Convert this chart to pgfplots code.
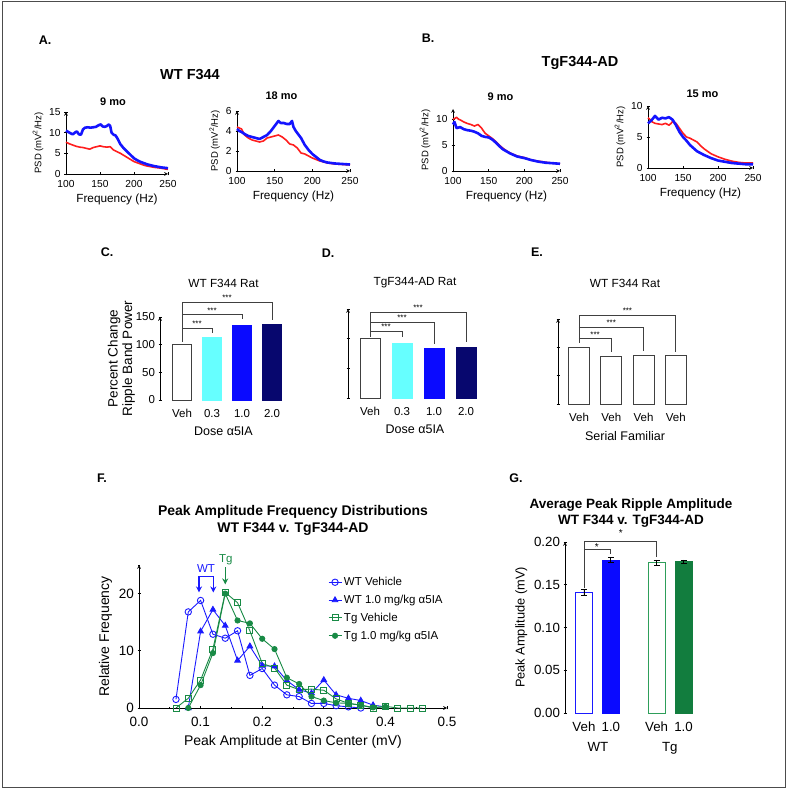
\documentclass[border=0pt]{standalone}
\usepackage{pgfplots}
\pgfplotsset{compat=1.18}
\usetikzlibrary{arrows.meta}
\usepackage{fontspec}
\setmainfont{Liberation Sans}
\definecolor{lred}{HTML}{FF1E1E}
\definecolor{lblue}{HTML}{1414FF}
\definecolor{cyanbar}{HTML}{66FFFF}
\definecolor{bluebar}{HTML}{0A0AFF}
\definecolor{navybar}{HTML}{07076E}
\definecolor{pblue}{HTML}{1A1AFF}
\definecolor{pgreen}{HTML}{188A45}
\definecolor{tgfill}{HTML}{127D3E}
\definecolor{tgline}{HTML}{2E9E5A}
\newcommand{\fs}[1]{\fontsize{#1}{#1}\selectfont}
\tikzset{br/.style={black!75, line width=0.8pt}}
\pgfplotsset{
  base/.style={scale only axis, clip=false, anchor=south west,
    /pgf/number format/assume math mode=true,
    tick align=outside, axis line style={-,line width=0.7pt}, tick style={black,line width=0.7pt},
    major tick length=3pt},
  psd/.style={base, axis lines=left,
    xmin=100,xmax=250,xtick={100,150,200,250},ymin=0,
    ticklabel style={font=\fs{10.2}},
    xticklabel style={yshift=-1.5pt},
    yticklabel style={xshift=-0.5pt},
    xlabel={Frequency (Hz)}, xlabel style={font=\fs{11.8}, yshift=1pt},
    ylabel={PSD (mV\textsuperscript{2}/Hz)}, ylabel style={font=\fs{9.5}, yshift=-1pt},
    title style={font=\bfseries\fs{11}}},
  redl/.style={lred, line width=1.6pt, line join=round},
  bluel/.style={lblue, line width=2.6pt, line join=round},
  bars/.style={base, axis lines=left, ymin=0, ymax=150, ytick={0,50,100,150},
    x axis line style={draw=none}, xtick style={draw=none},
    xtick={1,2,3,4}, xmax=4.5,
    ticklabel style={font=\fs{11.5}},
    xticklabel style={yshift=-4pt},
    label style={font=\fs{12.5}},
    xlabel style={yshift=-3pt},
    title style={font=\fs{11.8}}},
  onebar/.style={ybar, bar shift=0pt},
}
\begin{document}
\begin{tikzpicture}[x=1pt,y=1pt]
\useasboundingbox (0,0) rectangle (787,791);
\draw[line width=1pt, black!70] (2,3) rectangle (785,789);
% panel letters and group titles
\node[font=\bfseries\fs{12.5}] at (45,751) {A.};
\node[font=\bfseries\fs{12.5}] at (428,753) {B.};
\node[font=\bfseries\fs{14.5}] at (190,716) {WT F344};
\node[font=\bfseries\fs{14.5}] at (580,728) {TgF344-AD};
\node[font=\bfseries\fs{12.5}] at (107,539) {C.};
\node[font=\bfseries\fs{12.5}] at (328,538) {D.};
\node[font=\bfseries\fs{12.5}] at (537,539) {E.};
\node[font=\bfseries\fs{12.5}] at (102,313) {F.};
\node[font=\bfseries\fs{12.5}] at (516,313) {G.};

% ---------- A left: 9 mo
\begin{axis}[psd, at={(66pt,617pt)}, width=102pt, height=62pt, ymax=15, ytick={0,5,10,15},
  title={9 mo}, title style={yshift=-3pt, xshift=-4pt}]
\addplot[redl] coordinates {(100,7.7)(105,7.3)(110,7.0)(115,6.7)(120,6.5)(125,6.4)(130,6.2)(135,6.0)(140,6.4)(145,6.6)(150,6.8)(155,6.6)(160,6.5)(165,6.6)(170,5.8)(175,5.4)(180,5.0)(185,4.5)(190,4.0)(195,3.5)(200,3.0)(205,2.7)(210,2.4)(215,2.1)(220,1.9)(225,1.75)(230,1.6)(240,1.4)(250,1.1)};
\addplot[bluel] coordinates {(100,10.5)(103,10.2)(106,9.9)(110,9.6)(113,10.0)(116,10.3)(119,9.6)(122,9.5)(125,10.8)(128,11.2)(132,11.3)(136,11.2)(140,11.3)(144,11.4)(148,11.8)(151,12.0)(154,11.5)(157,11.4)(160,11.6)(163,12.0)(165,11.6)(167,10.0)(170,9.5)(173,9.3)(176,8.5)(180,7.2)(185,6.2)(190,5.4)(195,4.6)(200,3.8)(205,3.3)(210,2.9)(215,2.6)(220,2.3)(225,2.1)(230,1.9)(235,1.75)(240,1.6)(245,1.5)(250,1.4)};
\end{axis}
% ---------- A right: 18 mo
\begin{axis}[psd, at={(237pt,620pt)}, width=113pt, height=60pt, ymax=6, ytick={0,2,4,6},
  title={18 mo}, title style={yshift=2pt, xshift=-12pt}]
\addplot[redl] coordinates {(100,4.4)(103,4.3)(106,4.2)(110,3.6)(115,3.3)(120,3.1)(125,3.0)(130,2.9)(135,3.0)(140,3.3)(145,3.4)(150,3.5)(155,3.6)(160,3.4)(165,3.1)(170,2.7)(175,2.6)(180,2.3)(185,1.8)(190,1.7)(195,1.5)(200,1.3)(205,1.15)(210,1.0)(220,0.8)(230,0.7)(240,0.65)(250,0.6)};
\addplot[bluel] coordinates {(100,4.2)(103,4.0)(106,3.9)(110,3.7)(115,3.5)(120,3.4)(125,3.3)(130,3.2)(135,3.4)(140,3.6)(145,4.0)(150,4.5)(153,4.8)(155,5.0)(158,4.8)(162,4.8)(166,4.7)(170,4.7)(173,5.0)(175,4.4)(178,4.0)(180,3.8)(185,3.3)(190,2.6)(195,2.1)(200,1.7)(205,1.4)(210,1.1)(215,0.95)(220,0.85)(230,0.75)(240,0.7)(250,0.65)};
\end{axis}
% ---------- B left: 9 mo
\begin{axis}[psd, at={(453pt,620pt)}, width=107pt, height=62pt, ymax=12, ytick={0,5,10},
  title={9 mo}, title style={yshift=-1pt, xshift=-6pt}]
\addplot[redl] coordinates {(100,10.0)(103,10.2)(105,10.4)(108,10.0)(110,9.9)(115,9.5)(120,9.2)(125,9.0)(130,8.7)(135,9.0)(140,8.3)(145,7.3)(150,6.8)(155,6.3)(160,5.7)(165,5.0)(170,4.4)(175,3.9)(180,3.5)(190,2.9)(200,2.6)(210,2.1)(220,1.9)(230,1.7)(240,1.5)(250,1.4)};
\addplot[bluel] coordinates {(100,9.0)(102,9.5)(105,8.3)(110,8.5)(115,8.1)(120,7.9)(125,7.8)(130,7.6)(135,7.3)(140,6.8)(145,6.6)(150,6.5)(155,6.1)(160,5.5)(165,4.8)(170,4.2)(175,3.8)(180,3.4)(190,2.8)(200,2.5)(210,2.1)(220,1.8)(230,1.6)(240,1.5)(250,1.4)};
\end{axis}
% ---------- B right: 15 mo
\begin{axis}[psd, at={(648pt,623pt)}, width=105pt, height=62pt, ymax=10, ytick={0,5,10},
  title={15 mo}, title style={yshift=-1pt, xshift=2pt}]
\addplot[redl] coordinates {(100,8.1)(103,7.8)(105,7.5)(110,7.2)(115,7.1)(120,7.0)(125,7.2)(130,6.9)(133,7.2)(135,7.5)(140,7.2)(145,6.4)(150,5.6)(155,5.0)(160,4.8)(165,4.5)(170,4.2)(175,3.6)(180,3.1)(185,2.7)(190,2.3)(200,1.8)(210,1.4)(220,1.1)(230,0.9)(240,0.8)(250,0.8)};
\addplot[bluel] coordinates {(100,7.2)(105,7.7)(110,8.4)(115,7.8)(120,8.1)(125,8.0)(130,8.2)(135,7.8)(140,6.9)(145,5.8)(150,5.0)(155,4.4)(160,3.7)(165,3.2)(170,2.7)(180,2.1)(190,1.6)(200,1.2)(210,1.0)(220,0.8)(230,0.7)(240,0.6)(250,0.6)};
\end{axis}

% ---------- C
\begin{axis}[bars, at={(160pt,391pt)}, width=127pt, height=83pt, xmin=0.267,
  xticklabels={Veh,0.3,1.0,2.0}, xlabel={Dose α5IA},
  ylabel={Percent Change\\Ripple Band Power}, ylabel style={align=center, font=\fontsize{13.5}{14.5}\selectfont, yshift=-6pt},
  title={WT F344 Rat}, title style={yshift=20pt}]
\addplot[onebar, bar width=19pt, fill=white, draw=black!75, line width=0.8pt] coordinates {(1,100)};
\addplot[onebar, bar width=19pt, fill=cyanbar, draw=cyanbar] coordinates {(2,113)};
\addplot[onebar, bar width=19pt, fill=bluebar, draw=bluebar] coordinates {(3,135)};
\addplot[onebar, bar width=19pt, fill=navybar, draw=navybar] coordinates {(4,137)};
\draw[br] (axis cs:1,105) -- (axis cs:1,177) -- (axis cs:4,177) -- (axis cs:4,145);
\draw[br] (axis cs:1,154) -- (axis cs:3,154) -- (axis cs:3,146);
\draw[br] (axis cs:1,130) -- (axis cs:2,130) -- (axis cs:2,121);
\node[font=\fs{8}] at (axis cs:2.5,184) {***};
\node[font=\fs{8}] at (axis cs:2,161) {***};
\node[font=\fs{8}] at (axis cs:1.5,137) {***};
\end{axis}
% ---------- D
\begin{axis}[bars, at={(348pt,393pt)}, width=134pt, height=89pt, xmin=0.3125,
  yticklabels={}, xticklabels={Veh,0.3,1.0,2.0}, xlabel={Dose α5IA},
  title={TgF344-AD Rat}, title style={yshift=12pt}]
\addplot[onebar, bar width=20pt, fill=white, draw=black!75, line width=0.8pt] coordinates {(1,100)};
\addplot[onebar, bar width=20pt, fill=cyanbar, draw=cyanbar] coordinates {(2,93)};
\addplot[onebar, bar width=20pt, fill=bluebar, draw=bluebar] coordinates {(3,84)};
\addplot[onebar, bar width=20pt, fill=navybar, draw=navybar] coordinates {(4,86)};
\draw[br] (axis cs:1,103) -- (axis cs:1,145) -- (axis cs:4,145) -- (axis cs:4,95);
\draw[br] (axis cs:1,128) -- (axis cs:3,128) -- (axis cs:3,91);
\draw[br] (axis cs:1,113) -- (axis cs:2,113) -- (axis cs:2,103);
\node[font=\fs{8}] at (axis cs:2.5,152) {***};
\node[font=\fs{8}] at (axis cs:2,135) {***};
\node[font=\fs{8}] at (axis cs:1.5,120) {***};
\end{axis}
% ---------- E
\begin{axis}[bars, at={(558pt,387pt)}, width=134pt, height=85pt, xmin=0.35,
  yticklabels={}, xticklabels={Veh,Veh,Veh,Veh}, xlabel={Serial Familiar},
  title={WT F344 Rat}, title style={yshift=22pt}]
\addplot[onebar, bar width=21pt, fill=white, draw=black!75, line width=0.8pt] coordinates {(1,100)};
\addplot[onebar, bar width=21pt, fill=white, draw=black!75, line width=0.8pt] coordinates {(2,84)};
\addplot[onebar, bar width=21pt, fill=white, draw=black!75, line width=0.8pt] coordinates {(3,86)};
\addplot[onebar, bar width=21pt, fill=white, draw=black!75, line width=0.8pt] coordinates {(4,85)};
\draw[br] (axis cs:1,108) -- (axis cs:1,157) -- (axis cs:4,157) -- (axis cs:4,92);
\draw[br] (axis cs:1,136) -- (axis cs:3,136) -- (axis cs:3,93.5);
\draw[br] (axis cs:1,116) -- (axis cs:2,116) -- (axis cs:2,92);
\node[font=\fs{8}] at (axis cs:2.5,165) {***};
\node[font=\fs{8}] at (axis cs:2,144) {***};
\node[font=\fs{8}] at (axis cs:1.5,123) {***};
\end{axis}

% ---------- F
\begin{axis}[base, at={(139pt,83pt)}, width=308pt, height=143pt,
  axis lines=left, xmin=0, xmax=0.5, ymin=0, ymax=25,
  xtick={0,0.1,0.2,0.3,0.4,0.5}, ytick={0,10,20}, minor xtick={0.05,0.15,0.25,0.35,0.45}, minor ytick={25},
  minor tick length=2pt,
  xticklabel style={yshift=-4pt, /pgf/number format/.cd, fixed, fixed zerofill, precision=1},
  ticklabel style={font=\fs{13.5}},
  xlabel={Peak Amplitude at Bin Center (mV)}, ylabel={Relative Frequency},
  label style={font=\fs{14}}, xlabel style={yshift=-2pt},
  title={Peak Amplitude Frequency Distributions\\WT F344 v. TgF344-AD},
  title style={align=center, font=\bfseries\fontsize{14}{16.5}\selectfont, yshift=20pt},
  legend style={at={(axis cs:0.305,23.4)}, anchor=north west, draw=none, fill=none,
    font=\fs{11.5}, row sep=4pt, inner sep=1pt},
  legend cell align=left,
  legend image code/.code={\draw[mark repeat=2,mark phase=2,#1] plot coordinates {(0pt,0pt)(6.5pt,0pt)(13pt,0pt)};},
]
\addplot[pblue, line width=0.9pt, mark=o, mark size=3.2pt, mark options={fill=white, line width=0.9pt}] coordinates {
(0.06,1.5)(0.08,16.8)(0.10,18.8)(0.12,12.9)(0.14,12.2)(0.16,13.5)(0.18,5.7)(0.20,6.9)(0.22,4.0)(0.24,2.3)(0.26,2.0)(0.28,0.8)(0.30,0.8)(0.32,0.4)(0.34,0.2)(0.36,0)};
\addlegendentry{WT Vehicle}
\addplot[pblue, line width=0.9pt, mark=triangle*, mark size=3.2pt] coordinates {
(0.08,0)(0.10,13.4)(0.12,17.2)(0.14,14.4)(0.16,8.3)(0.18,10.8)(0.20,7.4)(0.22,7.3)(0.24,4.8)(0.26,3.2)(0.28,2.6)(0.30,4.9)(0.32,2.3)(0.34,1.7)(0.36,1.3)(0.38,0.5)(0.40,0.2)};
\addlegendentry{WT 1.0 mg/kg α5IA}
\addplot[pgreen, line width=0.9pt, mark=square, mark size=3pt, mark options={fill=white, line width=0.9pt}] coordinates {
(0.06,0)(0.08,1.7)(0.10,4.9)(0.12,10.3)(0.14,20.2)(0.16,18.4)(0.18,13.5)(0.20,7.8)(0.22,7.0)(0.24,4.0)(0.26,3.2)(0.28,3.3)(0.30,3.1)(0.32,1.6)(0.34,0.8)(0.36,0.5)(0.38,0)(0.40,0.3)(0.42,0)(0.44,0)(0.46,0)};
\addlegendentry{Tg Vehicle}
\addplot[pgreen, line width=0.9pt, mark=*, mark size=2.6pt] coordinates {
(0.08,0)(0.10,4.0)(0.12,9.6)(0.14,20.0)(0.16,15.3)(0.18,14.8)(0.20,12.1)(0.22,10.3)(0.24,5.3)(0.26,4.2)(0.28,2.0)(0.30,1.3)(0.32,0.9)(0.34,0.8)(0.36,0.5)(0.38,0.1)(0.40,0.2)};
\addlegendentry{Tg 1.0 mg/kg α5IA}
\draw[pblue, line width=1.3pt, -{Stealth[length=6pt,width=6pt]}] (axis cs:0.0974,23.0) -- (axis cs:0.0974,20.2);
\draw[pblue, line width=1.3pt, -{Stealth[length=6pt,width=6pt]}] (axis cs:0.0974,23.0) -- (axis cs:0.1206,23.0) -- (axis cs:0.1206,20.2);
\node[pblue, font=\fs{11.5}] at (axis cs:0.1088,24.4) {WT};
\draw[pgreen, line width=1.3pt, -{Stealth[length=6pt,width=6pt]}] (axis cs:0.14,24.6) -- (axis cs:0.14,21.6);
\node[pgreen, font=\fs{11.5}] at (axis cs:0.141,26.0) {Tg};
\end{axis}

% ---------- G
\begin{axis}[base, at={(565pt,78pt)}, width=132pt, height=171pt,
  axis lines=left, x axis line style={draw=none}, xtick style={draw=none},
  xmin=0.296, xmax=5.2, ymin=0, ymax=0.2, ytick={0,0.05,0.1,0.15,0.2},
  yticklabel style={/pgf/number format/.cd, fixed, fixed zerofill, precision=2},
  xtick={1,2,3.7,4.7}, xticklabels={Veh,1.0,Veh,1.0},
  xticklabel style={yshift=-4pt},
  extra x ticks={1.52,4.19}, extra x tick labels={WT,Tg},
  extra x tick style={tick label style={yshift=-20pt}, tick style={draw=none}},
  ticklabel style={font=\fs{13.3}},
  ylabel={Peak Amplitude (mV)}, label style={font=\fs{12.8}},
  title={Average Peak Ripple Amplitude\\WT F344 v. TgF344-AD},
  title style={align=center, font=\bfseries\fontsize{13.5}{16}\selectfont, yshift=5pt},
]
\addplot[onebar, bar width=17pt, fill=white, draw=pblue, line width=0.9pt,
  error bars/.cd, y dir=both, y explicit, error bar style={black, line width=0.8pt}, error mark options={rotate=90, mark size=3pt, black, line width=0.8pt}]
  coordinates {(1,0.141) +- (0,0.003)};
\addplot[onebar, bar width=17pt, fill=bluebar, draw=bluebar,
  error bars/.cd, y dir=both, y explicit, error bar style={black, line width=0.8pt}, error mark options={rotate=90, mark size=3pt, black, line width=0.8pt}]
  coordinates {(2,0.179) +- (0,0.003)};
\addplot[onebar, bar width=17pt, fill=white, draw=tgline, line width=0.9pt,
  error bars/.cd, y dir=both, y explicit, error bar style={black, line width=0.8pt}, error mark options={rotate=90, mark size=3pt, black, line width=0.8pt}]
  coordinates {(3.7,0.176) +- (0,0.003)};
\addplot[onebar, bar width=17pt, fill=tgfill, draw=tgfill,
  error bars/.cd, y dir=both, y explicit, error bar style={black, line width=0.8pt}, error mark options={rotate=90, mark size=3pt, black, line width=0.8pt}]
  coordinates {(4.7,0.177) +- (0,0.002)};
\draw[br] (axis cs:1,0.146) -- (axis cs:1,0.201) -- (axis cs:3.7,0.201) -- (axis cs:3.7,0.182);
\draw[br] (axis cs:1,0.1915) -- (axis cs:2,0.1915) -- (axis cs:2,0.186);
\node[font=\fs{10}] at (axis cs:1.48,0.1945) {*};
\node[font=\fs{10}] at (axis cs:2.37,0.2105) {*};
\end{axis}
\end{tikzpicture}
\end{document}
